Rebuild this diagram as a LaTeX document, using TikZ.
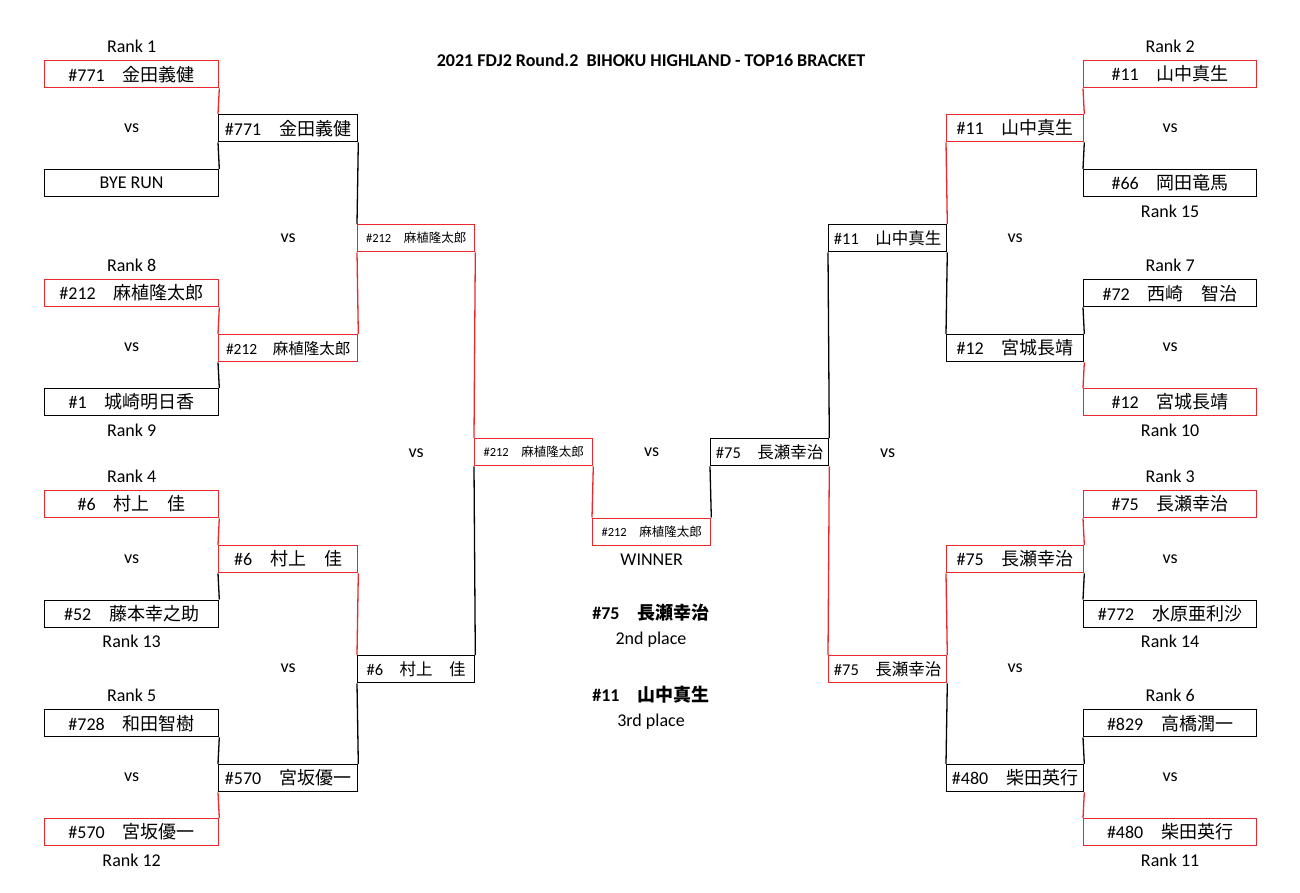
\documentclass[tikz,border=0pt]{standalone}
\usepackage{fontspec}
\setmainfont{Carlito}
\newfontfamily\jp{Noto Sans CJK JP}
\usetikzlibrary{positioning,calc}
\definecolor{wred}{RGB}{232,40,44}
\newcommand\entrant[2]{\##1\hspace{1em}{\jp #2}}

\begin{document}
\begin{tikzpicture}[
	x=1pt, y=-1pt,
	line width=1.3pt,
	font=\fontsize{18}{21}\selectfont,
	node distance=7pt,
	pbox/.style={draw,minimum width=#1,minimum height=27pt,inner sep=0pt,anchor=north west},
	won/.style={draw=wred},
	tight/.style={font=\fontsize{16.5}{19}\selectfont},
	snug/.style={font=\fontsize{15.5}{18}\selectfont},
	shrunk/.style={font=\fontsize{12.5}{15}\selectfont},
	rank/.style={inner sep=0pt},
	redline/.style={wred}
	]
	\useasboundingbox (0,0) rectangle (1300,893);
	\node[font=\bfseries\fontsize{18}{21}\selectfont] (title) at (651,60)
	{2021 FDJ2 Round.2\ \ BIHOKU HIGHLAND - TOP16 BRACKET};

	% left half
	\node[pbox=174pt,won] (a1) at (44,60) {\entrant{771}{金田義健}};
	\node[pbox=174pt] (a2) at (44,169) {BYE RUN};
	\node[pbox=174pt,won] (a3) at (44,279) {\entrant{212}{麻植隆太郎}};
	\node[pbox=174pt] (a4) at (44,388) {\entrant{1}{城崎明日香}};
	\node[pbox=174pt,won] (a5) at (44,490) {\entrant{6}{村上　佳}};
	\node[pbox=174pt] (a6) at (44,599.5) {\entrant{52}{藤本幸之助}};
	\node[pbox=174pt] (a7) at (44,709) {\entrant{728}{和田智樹}};
	\node[pbox=174pt,won] (a8) at (44,818) {\entrant{570}{宮坂優一}};
	\node[pbox=139pt] (b1) at (218,114) {\entrant{771}{金田義健}};
	\node[pbox=139pt,won,snug] (b2) at (218,334) {\entrant{212}{麻植隆太郎}};
	\node[pbox=139pt,won] (b3) at (218,545) {\entrant{6}{村上　佳}};
	\node[pbox=139pt] (b4) at (218,764) {\entrant{570}{宮坂優一}};
	\node[pbox=117pt,won,shrunk] (c1) at (357,224) {\entrant{212}{麻植隆太郎}};
	\node[pbox=117pt,tight] (c2) at (357,655) {\entrant{6}{村上　佳}};
	\node[pbox=118pt,won,shrunk] (d) at (474,438) {\entrant{212}{麻植隆太郎}};

	% final
	\node[pbox=118pt,won,shrunk] (win) at (592,517.5) {\entrant{212}{麻植隆太郎}};

	% right half
	\node[pbox=118pt,tight] (f) at (710,438) {\entrant{75}{長瀬幸治}};
	\node[pbox=118pt,tight] (g1) at (828,224) {\entrant{11}{山中真生}};
	\node[pbox=118pt,won,tight] (g2) at (828,655) {\entrant{75}{長瀬幸治}};
	\node[pbox=137pt,won] (h1) at (946,114) {\entrant{11}{山中真生}};
	\node[pbox=137pt] (h2) at (946,334) {\entrant{12}{宮城長靖}};
	\node[pbox=137pt,won] (h3) at (946,545) {\entrant{75}{長瀬幸治}};
	\node[pbox=137pt] (h4) at (946,764) {\entrant{480}{柴田英行}};
	\node[pbox=173pt,won] (i1) at (1083,60) {\entrant{11}{山中真生}};
	\node[pbox=173pt] (i2) at (1083,169) {\entrant{66}{岡田竜馬}};
	\node[pbox=173pt] (i3) at (1083,279) {\entrant{72}{西崎　智治}};
	\node[pbox=173pt,won] (i4) at (1083,388) {\entrant{12}{宮城長靖}};
	\node[pbox=173pt,won] (i5) at (1083,490) {\entrant{75}{長瀬幸治}};
	\node[pbox=173pt] (i6) at (1083,599.5) {\entrant{772}{水原亜利沙}};
	\node[pbox=173pt] (i7) at (1083,709) {\entrant{829}{高橋潤一}};
	\node[pbox=173pt,won] (i8) at (1083,818) {\entrant{480}{柴田英行}};

	% seeds
	\node[rank,above=of a1] (ra1) {Rank 1};
	\node[rank,above=of a3] (ra3) {Rank 8};
	\node[rank,below=of a4] (ra4) {Rank 9};
	\node[rank,above=of a5] (ra5) {Rank 4};
	\node[rank,below=of a6] (ra6) {Rank 13};
	\node[rank,above=of a7] (ra7) {Rank 5};
	\node[rank,below=of a8] (ra8) {Rank 12};
	\node[rank,above=of i1] (ri1) {Rank 2};
	\node[rank,below=of i2] (ri2) {Rank 15};
	\node[rank,above=of i3] (ri3) {Rank 7};
	\node[rank,below=of i4] (ri4) {Rank 10};
	\node[rank,above=of i5] (ri5) {Rank 3};
	\node[rank,below=of i6] (ri6) {Rank 14};
	\node[rank,above=of i7] (ri7) {Rank 6};
	\node[rank,below=of i8] (ri8) {Rank 11};

	% vs
	\node (vsa1) at ($(a1)!.5!(a2)$) {vs};
	\node (vsa2) at ($(a3)!.5!(a4)$) {vs};
	\node (vsa3) at ($(a5)!.5!(a6)$) {vs};
	\node (vsa4) at ($(a7)!.5!(a8)$) {vs};
	\node (vsb1) at ($(b1)!.5!(b2)$) {vs};
	\node (vsb2) at ($(b3)!.5!(b4)$) {vs};
	\node (vsc) at ($(c1)!.5!(c2)$) {vs};
	\node (vsfin) at ($(d.east)!.5!(f.west)$) {vs};
	\node (vsg) at ($(g1)!.5!(g2)$) {vs};
	\node (vsh1) at ($(h1)!.5!(h2)$) {vs};
	\node (vsh2) at ($(h3)!.5!(h4)$) {vs};
	\node (vsi1) at ($(i1)!.5!(i2)$) {vs};
	\node (vsi2) at ($(i3)!.5!(i4)$) {vs};
	\node (vsi3) at ($(i5)!.5!(i6)$) {vs};
	\node (vsi4) at ($(i7)!.5!(i8)$) {vs};

	% results
	\node[rank,below=of win] (winner) {WINNER};
	\node[font=\bfseries\fontsize{18}{21}\selectfont] (second) at (651,613) {\entrant{75}{長瀬幸治}};
	\node (secondlbl) at (651,640) {2nd place};
	\node[font=\bfseries\fontsize{18}{21}\selectfont] (third) at (651,695) {\entrant{11}{山中真生}};
	\node (thirdlbl) at (651,722) {3rd place};

	% winners path
	\path[redline]
	(a1.south east) edge (b1.north west)
	(a3.south east) edge (b2.north west)
	(a5.south east) edge (b3.north west)
	(b4.south west) edge (a8.north east)
	(c1.south west) edge (b2.north east)
	(b3.south east) edge (c2.north west)
	(c1.south east) edge (d.north west)
	(d.south east) edge (win.north west)
	(i1.south west) edge (h1.north east)
	(h2.south east) edge (i4.north west)
	(i5.south west) edge (h3.north east)
	(h4.south east) edge (i8.north west)
	(h1.south west) edge (g1.north east)
	(h3.south west) edge (g2.north east)
	(f.south east) edge (g2.north west);
	% losers path
	\path
	(b1.south west) edge (a2.north east)
	(b2.south west) edge (a4.north east)
	(b3.south west) edge (a6.north east)
	(a7.south east) edge (b4.north west)
	(b1.south east) edge (c1.north west)
	(c2.south west) edge (b4.north east)
	(d.south west) edge (c2.north east)
	(h1.south east) edge (i2.north west)
	(i3.south west) edge (h2.north east)
	(h3.south east) edge (i6.north west)
	(i7.south west) edge (h4.north east)
	(g1.south east) edge (h2.north west)
	(g2.south east) edge (h4.north west)
	(g1.south west) edge (f.north east)
	(f.south west) edge (win.north east);
\end{tikzpicture}
\end{document}
